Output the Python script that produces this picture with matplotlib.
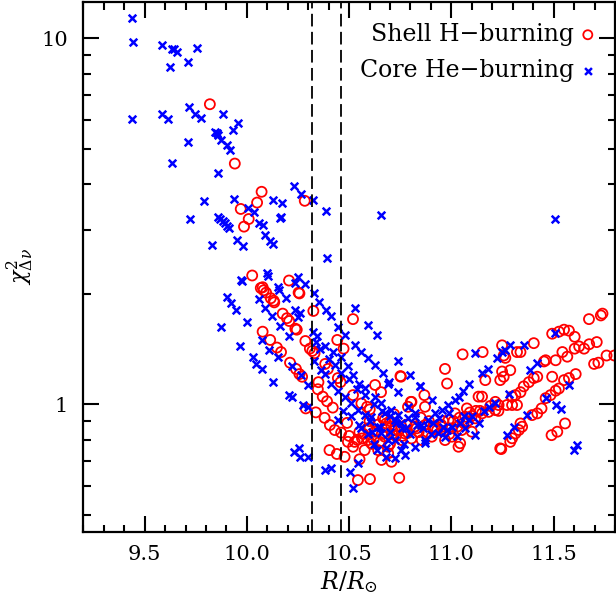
import numpy as np
import matplotlib
matplotlib.use("Agg")
import matplotlib.pyplot as plt
from matplotlib.ticker import NullFormatter, MultipleLocator, LogLocator

# Shell H-burning models (red circles): R/Rsun, chi2
shell_R = [
    9.819, 9.941, 10.072, 10.050, 9.970, 10.009, 9.986, 10.283, 10.026, 10.077,
    10.206, 10.253, 10.257, 10.068, 10.082, 10.094, 10.117, 10.131, 10.134, 10.175,
    10.196, 10.207, 10.237, 10.244, 10.286, 10.308, 10.320, 10.331, 10.325, 10.519,
    10.442, 10.473, 10.383, 10.396, 10.445, 10.458, 10.077, 10.114, 10.147, 10.167,
    10.211, 10.240, 10.257, 10.270, 10.347, 10.371, 10.392, 10.288, 10.337, 10.380,
    10.406, 10.430, 10.461, 10.404, 10.440, 10.478, 10.543, 10.602, 10.745, 10.519,
    10.551, 10.627, 10.656, 10.751, 10.519, 10.560, 10.588, 10.601, 10.666, 10.682,
    10.805, 10.788, 10.494, 10.527, 10.563, 10.593, 10.625, 10.674, 10.723, 10.756,
    10.788, 10.821, 10.576, 10.642, 10.691,
    11.739, 11.731, 11.673, 11.551, 11.575, 11.603, 11.493, 11.526, 11.603, 11.625,
    11.649, 11.674, 11.711, 11.759, 11.797, 11.698, 11.719, 11.567, 11.543, 11.510,
    11.461, 11.453, 11.493, 11.608, 11.575, 11.551, 11.526, 11.510, 11.485, 11.461,
    11.556, 11.518, 11.490, 11.441, 11.420, 11.395, 11.403, 11.338, 11.321, 11.264,
    11.256, 11.248, 11.288, 11.248, 11.239, 11.354, 11.379, 11.403, 11.420, 11.338,
    11.313, 11.297, 11.321, 11.297, 11.272, 11.338, 11.346, 11.330, 11.313, 11.297,
    11.288, 11.153, 11.055, 10.969, 10.979, 11.150, 11.215, 11.231, 11.076, 11.100,
    11.239, 10.753, 10.802, 10.868, 10.871, 11.166, 11.133, 11.256, 11.043, 11.035,
    11.244, 10.674, 10.707, 10.740, 10.772, 10.821, 10.871, 10.920, 10.953, 10.986,
    11.018, 11.068, 11.117, 11.150, 11.182, 11.215, 10.691, 10.756, 10.805, 10.855,
    10.904, 10.969, 11.002, 11.051, 10.658, 10.707,
    10.640, 10.700, 10.730, 10.780, 10.840, 10.890, 10.950, 11.010, 11.060, 11.100,
    10.620, 10.660, 10.600, 10.570, 10.610, 10.880, 10.930, 11.030, 11.080, 11.120,
    10.550, 10.590, 10.650, 10.710, 10.760, 10.830, 10.910, 10.990, 11.040, 11.190,
    10.500, 10.540, 10.680, 10.720, 10.850, 10.960, 11.000, 11.090, 11.140, 11.230,
    10.350, 10.420, 10.490, 10.600, 10.700,
]
shell_chi2 = [
    6.61, 4.55, 3.81, 3.56, 3.42, 3.21, 3.06, 3.60, 2.25, 2.09,
    2.18, 2.02, 2.01, 2.08, 2.05, 2.02, 1.95, 1.92, 1.90, 1.77,
    1.72, 1.69, 1.61, 1.60, 1.49, 1.42, 1.40, 1.38, 1.80, 1.71,
    1.50, 1.42, 1.29, 1.25, 1.18, 1.15, 1.58, 1.50, 1.43, 1.39,
    1.30, 1.25, 1.21, 1.19, 1.10, 1.05, 1.02, 0.975, 0.951, 0.919,
    0.878, 0.851, 0.837, 0.750, 0.732, 0.719, 0.621, 0.625, 0.630, 0.766,
    0.708, 1.13, 1.08, 1.195, 1.06, 1.006, 0.985, 0.969, 0.916, 0.887,
    1.016, 0.985, 0.790, 0.790, 0.807, 0.799, 0.842, 0.816, 0.851, 0.869,
    0.836, 0.869, 0.750, 0.750, 0.735,
    1.77, 1.75, 1.71, 1.60, 1.59, 1.53, 1.56, 1.58, 1.42, 1.44,
    1.42, 1.46, 1.48, 1.36, 1.36, 1.29, 1.30, 1.35, 1.39, 1.32,
    1.32, 1.31, 1.19, 1.21, 1.18, 1.165, 1.105, 1.09, 1.06, 1.04,
    0.887, 0.842, 0.824, 0.975, 0.945, 0.935, 1.47, 1.39, 1.39, 1.34,
    1.36, 1.45, 1.24, 1.23, 1.165, 1.12, 1.15, 1.18, 1.19, 1.08,
    1.06, 1.05, 0.996, 0.996, 0.996, 0.887, 0.869, 0.851, 0.833, 0.808,
    0.790, 1.39, 1.37, 1.25, 1.14, 1.05, 1.016, 0.996, 0.975, 0.842,
    0.758, 1.19, 1.016, 1.06, 0.985, 1.165, 1.05, 1.19, 0.783, 0.766,
    0.755, 0.906, 0.869, 0.851, 0.833, 0.869, 0.878, 0.860, 0.869, 0.906,
    0.945, 0.925, 0.916, 0.945, 0.954, 0.965, 0.766, 0.799, 0.807, 0.799,
    0.816, 0.799, 0.816, 0.851, 0.705, 0.697,
    0.880, 0.900, 0.820, 0.880, 0.840, 0.900, 0.880, 0.900, 0.890, 0.930,
    0.800, 0.830, 0.860, 0.830, 0.780, 0.830, 0.850, 0.870, 0.900, 0.960,
    0.840, 0.860, 0.790, 0.830, 0.820, 0.860, 0.870, 0.830, 0.920, 0.990,
    0.820, 0.800, 0.870, 0.940, 0.920, 0.900, 0.860, 0.950, 0.960, 0.960,
    1.150, 0.980, 0.890, 0.900, 0.780,
]

# Core He-burning models (blue crosses): R/Rsun, chi2
core_R = [
    9.437, 9.443, 9.583, 9.632, 9.645, 9.656, 9.625, 9.713, 9.757, 9.437,
    9.583, 9.616, 9.719, 9.745, 9.775, 9.882, 9.959, 9.932, 9.852, 9.846,
    9.858, 9.872, 9.903, 9.919, 9.713, 9.636, 9.857, 9.790, 9.935, 9.721,
    9.828, 9.858, 9.868, 9.883, 9.893, 9.905, 9.915, 9.952, 9.980, 10.006,
    10.035, 10.060, 10.078, 10.088, 10.114, 10.126, 10.127, 10.171, 10.163, 10.230,
    10.265, 10.325, 10.388, 10.655, 11.505, 10.391, 10.167,
    9.978, 10.096, 10.101, 10.157, 10.191, 10.249, 10.237, 10.286, 9.970, 10.150,
    9.901, 9.924, 9.949, 9.875, 9.999, 9.965, 10.057, 10.091, 10.121, 10.160,
    10.207, 10.235, 10.258, 10.252, 10.327, 10.355, 10.386, 10.412, 10.445, 10.478,
    10.527, 10.560, 10.593, 10.625, 10.666, 10.694, 10.527, 10.593, 10.634, 10.740,
    10.797, 10.322, 10.343, 10.330, 10.363, 10.382, 10.380, 10.421, 10.462, 10.494,
    10.519, 10.548, 10.576, 10.028, 10.044, 10.073, 10.073, 10.109, 10.150, 10.126,
    10.207, 10.223, 10.223, 10.265, 10.298, 10.273, 10.298, 10.412, 10.445, 10.478,
    10.507, 10.543, 10.576, 10.609, 10.445, 10.232, 10.253, 10.260, 10.298, 10.384,
    10.412, 10.502, 10.519, 10.625, 10.658, 10.707, 10.740, 10.788, 10.821, 10.846,
    10.634, 10.682, 10.723, 10.772, 10.543,
    11.507, 11.118, 11.223, 11.248, 11.264, 11.288, 11.354, 11.150, 11.179, 11.087,
    11.387, 11.420, 11.281, 11.461, 11.510, 11.534, 11.575, 11.370, 11.272, 11.305,
    11.600, 11.616, 11.117, 11.035, 11.059, 10.846, 10.904, 10.740, 10.691,
    10.674, 10.723, 10.756, 10.821, 10.887, 10.920, 10.953, 10.986, 11.018, 11.084,
    11.133, 11.182, 11.215, 10.658, 10.723, 10.756, 10.821, 10.871, 10.937, 10.969,
    11.002, 11.068,
    10.600, 10.640, 10.700, 10.780, 10.850, 10.900, 10.960, 11.040, 11.100, 11.160,
    10.620, 10.690, 10.770, 10.800, 10.870, 10.980, 11.030, 10.560, 10.590, 10.650,
    10.340, 10.360, 10.400, 10.430, 10.460, 10.500, 10.540, 10.580, 10.620, 10.660,
    10.700, 10.730, 10.760, 10.790, 10.830, 10.860, 10.910, 10.940, 10.990, 11.060,
    10.470, 10.510, 10.550, 10.610, 10.680,
]
core_chi2 = [
    11.34, 9.79, 9.59, 9.35, 9.33, 9.17, 8.33, 8.63, 9.39, 6.02,
    6.21, 6.01, 6.50, 6.20, 6.05, 6.21, 5.89, 5.62, 5.50, 5.55,
    5.45, 5.27, 5.11, 4.95, 5.20, 4.57, 4.29, 3.59, 3.64, 3.21,
    2.72, 3.26, 3.22, 3.18, 3.13, 3.07, 3.03, 2.82, 2.71, 3.43,
    3.35, 3.13, 3.10, 2.90, 2.80, 2.74, 3.61, 3.56, 3.23, 3.95,
    3.75, 3.61, 3.38, 3.29, 3.21, 2.51, 3.26,
    2.18, 2.28, 2.24, 2.06, 1.95, 2.23, 2.14, 2.13, 2.19, 2.09,
    1.96, 1.89, 1.81, 1.63, 1.68, 1.44, 1.94, 1.83, 1.74, 1.64,
    1.54, 1.81, 1.78, 1.73, 2.01, 1.91, 1.81, 1.74, 1.63, 1.55,
    1.45, 1.39, 1.34, 1.28, 1.22, 1.15, 1.83, 1.65, 1.55, 1.31,
    1.20, 1.58, 1.54, 1.31, 1.24, 1.21, 1.44, 1.39, 1.35, 1.27,
    1.20, 1.14, 1.11, 1.35, 1.29, 1.25, 1.50, 1.41, 1.35, 1.15,
    1.06, 1.05, 1.27, 1.20, 1.13, 0.996, 0.985, 1.14, 1.09, 1.05,
    1.006, 0.965, 0.935, 0.925, 0.906, 0.742, 0.758, 0.719, 0.719, 0.661,
    0.669, 0.654, 0.590, 1.05, 1.006, 0.965, 0.935, 0.985, 0.945, 1.12,
    0.750, 0.719, 0.712, 0.727, 0.690,
    1.57, 1.38, 1.34, 1.39, 1.41, 1.45, 1.45, 1.215, 1.25, 1.14,
    1.24, 1.30, 1.07, 1.04, 0.996, 0.969, 1.13, 0.935, 0.824, 0.869,
    0.750, 0.774, 0.824, 1.05, 1.09, 1.12, 1.03, 1.08, 1.14,
    0.945, 0.906, 0.887, 0.925, 0.906, 0.945, 0.965, 0.996, 1.027, 0.906,
    0.887, 0.985, 1.006, 0.833, 0.799, 0.750, 0.766, 0.782, 0.833, 0.816,
    0.869, 0.860,
    0.900, 0.870, 0.840, 0.860, 0.880, 0.830, 0.870, 0.890, 0.930, 0.960,
    0.780, 0.800, 0.780, 0.830, 0.800, 0.850, 0.820, 0.860, 0.830, 0.870,
    1.480, 1.420, 1.330, 1.280, 1.220, 1.170, 1.100, 1.060, 1.000, 0.960,
    0.930, 0.890, 0.860, 0.920, 0.880, 0.860, 0.890, 0.920, 0.950, 0.930,
    0.960, 0.930, 0.880, 0.840, 0.760,
]

# boundaries of the preferred radius range
r_limits = [10.32, 10.46]

plt.rcParams["font.family"] = ["DejaVu Serif"]
plt.rcParams["mathtext.fontset"] = "dejavuserif"

fig = plt.figure(figsize=(6.16, 6.04), dpi=100)
ax = fig.add_axes([0.1352, 0.1192, 0.8631, 0.878])

ax.scatter(shell_R, shell_chi2, s=52, facecolors="none", edgecolors="red",
           linewidths=1.3, marker="o", label="Shell H\u2212burning")
ax.scatter(core_R, core_chi2, s=30, color="blue", linewidths=1.8,
           marker="x", label="Core He\u2212burning")

for r in r_limits:
    ax.axvline(r, color="black", lw=1.3, dashes=(7, 3))

ax.set_yscale("log")
ax.set_xlim(9.2, 11.8)
ax.set_ylim(0.448, 12.6)

ax.xaxis.set_minor_locator(MultipleLocator(0.1))
ax.set_xticks([9.5, 10.0, 10.5, 11.0, 11.5])
ax.set_xticklabels(["9.5", "10.0", "10.5", "11.0", "11.5"])
ax.yaxis.set_minor_locator(LogLocator(base=10, subs=np.arange(2, 10)))
ax.set_yticks([1, 10])
ax.set_yticklabels(["1", "10"])
ax.yaxis.set_minor_formatter(NullFormatter())

ax.tick_params(which="both", direction="in", top=True, right=True,
               width=1.5, labelsize=15)
ax.tick_params(which="major", length=11.5)
ax.tick_params(which="minor", length=5.4)
ax.tick_params(axis="x", pad=9)
ax.tick_params(axis="y", pad=11)
for sp in ax.spines.values():
    sp.set_linewidth(1.6)

ax.set_xlabel(r"$R/R_{\odot}$", fontsize=17, labelpad=4)
ax.set_ylabel(r"$\chi^2_{\Delta\nu}$", fontsize=16, labelpad=4)

ax.legend(loc="upper right", frameon=False, markerfirst=False, fontsize=17,
          handlelength=0.5, handletextpad=0.35, labelspacing=0.55,
          borderaxespad=0.5, scatterpoints=1, markerscale=0.9)

plt.savefig("out.png", dpi=100)
